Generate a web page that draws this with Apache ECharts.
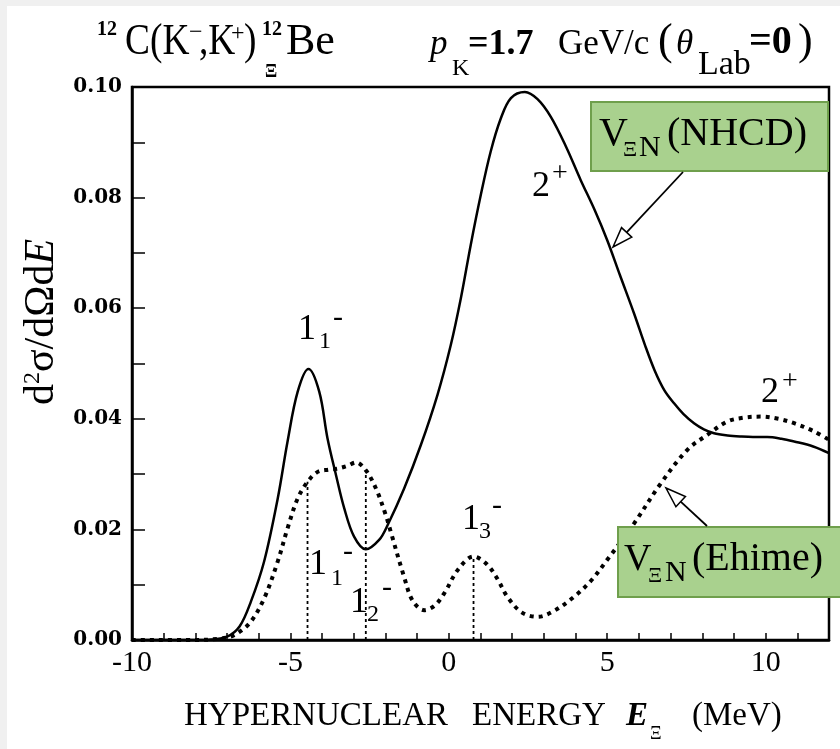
<!DOCTYPE html>
<html>
<head>
<meta charset="utf-8">
<script src="https://cdn.jsdelivr.net/npm/echarts@6/dist/echarts.min.js"></script>
<style>
html, body { margin: 0; padding: 0; background: #fff; }
#chart { width: 840px; height: 749px; }
</style>
</head>
<body>
<div id="chart"></div>
<script>
// V_ΞN (NHCD) - solid curve
const nhcdE = [-10, -8, -7.5, -7.0, -6.6, -6.25, -5.83, -5.4, -5.09, -4.77,
    -4.43, -4.09, -3.83, -3.56, -3.30, -2.99, -2.62, -2.2, -1.93, -1.41,
    -0.88, -0.36, 0.06, 0.38, 0.69, 1.01, 1.32, 1.64, 1.96, 2.4,
    2.8, 3.22, 3.7, 4.16, 4.6, 5.0, 5.4, 5.85, 6.2, 6.5,
    6.8, 7.11, 7.4, 7.74, 8.05, 8.37, 8.8, 9.21, 9.6, 10.05,
    10.5, 10.9, 11.5, 12];
const nhcdV = [0, 0, 0.0001, 0.0006, 0.0025, 0.0069, 0.0142, 0.0256, 0.0359, 0.0449,
    0.0490, 0.0449, 0.0365, 0.0298, 0.0238, 0.0187, 0.0164, 0.0181, 0.0208, 0.0274,
    0.0353, 0.0443, 0.0533, 0.0618, 0.0714, 0.0805, 0.0883, 0.0943, 0.0980, 0.0991,
    0.0978, 0.0946, 0.0892, 0.0832, 0.0778, 0.0723, 0.0660, 0.0590, 0.0532, 0.0487,
    0.0452, 0.0428, 0.0409, 0.0392, 0.0381, 0.0374, 0.0370, 0.0368, 0.0367, 0.0367,
    0.0364, 0.0359, 0.0350, 0.0338];

// V_ΞN (Ehime) - dotted curve
const ehimeE = [-10, -8, -7.3, -6.9, -6.6, -6.25, -5.83, -5.4, -5.09, -4.77,
    -4.46, -4.14, -3.8, -3.51, -3.2, -2.93, -2.62, -2.3, -1.99, -1.83,
    -1.41, -1.15, -0.78, -0.45, -0.15, 0.3, 0.78, 1.2, 1.54, 1.85,
    2.3, 2.8, 3.3, 3.95, 4.5, 5.0, 5.85, 6.69, 7.53, 8.16,
    8.79, 9.3, 9.84, 10.4, 10.9, 11.5, 12];
const ehimeV = [0, 0, 0.0002, 0.0006, 0.0015, 0.0033, 0.0075, 0.0142, 0.0202, 0.0256,
    0.0286, 0.0304, 0.0308, 0.0310, 0.0315, 0.0321, 0.0307, 0.0274, 0.0226, 0.0195,
    0.0114, 0.0072, 0.0054, 0.0062, 0.0084, 0.0128, 0.0151, 0.0137, 0.0110, 0.0078,
    0.0050, 0.0042, 0.0052, 0.0078, 0.0108, 0.0145, 0.0211, 0.0283, 0.0344, 0.0371,
    0.0395, 0.0402, 0.0404, 0.0400, 0.0392, 0.0378, 0.0362];

// 1- states (Ehime): positions of the dotted drop lines
const stateE = [-4.46, -2.62, 0.78];
const stateV = [0.0286, 0.0306, 0.0151];

const xTicks = [-10, -5, 0, 5, 10];

const serif = '"Liberation Serif", "DejaVu Serif", serif';

function txt(x, y, s, size, opt) {
    opt = opt || {};
    return {
        type: 'text', x: x, y: y, z: opt.z || 100, scaleX: opt.sx || 1, silent: true,
        style: {
            text: s, fontFamily: opt.font || serif, fontSize: size,
            fontWeight: opt.bold ? 'bold' : 'normal',
            fontStyle: opt.italic ? 'italic' : 'normal',
            fill: '#000', align: 'left', verticalAlign: 'middle'
        }
    };
}

function arrow(x1, y1, x2, y2) {
    const L = 20, W = 7;
    const dx = x2 - x1, dy = y2 - y1, d = Math.hypot(dx, dy);
    const ux = dx / d, uy = dy / d;
    const bx = x2 - ux * L, by = y2 - uy * L;
    return [
        { type: 'line', z: 100, silent: true, shape: { x1: x1, y1: y1, x2: bx, y2: by }, style: { stroke: '#000', lineWidth: 1.8 } },
        { type: 'polygon', z: 100, silent: true,
          shape: { points: [[x2, y2], [bx - uy * W, by + ux * W], [bx + uy * W, by - ux * W]] },
          style: { fill: '#fff', stroke: '#000', lineWidth: 1.5 } }
    ];
}

const greenBox = { fill: '#a9d18e', stroke: '#6f9f4c', lineWidth: 2 };

const graphics = [
    // light grey strip at left/top edge
    { type: 'rect', z: 1, silent: true, shape: { x: 0, y: 0, width: 7, height: 749 }, style: { fill: '#f0f0f0' } },
    { type: 'rect', z: 1, silent: true, shape: { x: 0, y: 0, width: 840, height: 6 }, style: { fill: '#f0f0f0' } },

    // title
    txt(97, 30, '12', 20, { bold: true }),
    txt(125, 42, 'C(K', 44, { sx: 0.85 }),
    txt(189, 33, '\u2212', 24),
    txt(199, 42, ',K', 44, { sx: 0.85 }),
    txt(231, 34, '+', 24),
    txt(244, 42, ')', 44, { sx: 0.85 }),
    txt(262, 30, '12', 20, { bold: true }),
    txt(265, 72, 'Ξ', 18, { bold: true }),
    txt(286, 42, 'Be', 44),
    txt(430, 45, 'p', 35, { italic: true }),
    txt(452, 69, 'K', 24),
    txt(468, 45, '=1.7', 36, { bold: true }),
    txt(558, 45, 'GeV/c', 35),
    txt(658, 42, '(', 44),
    txt(676, 45, 'θ', 35, { italic: true }),
    txt(698, 65, 'Lab', 34),
    txt(749, 43, '=0', 40, { bold: true }),
    txt(798, 42, ')', 44),

    // y axis title
    { type: 'text', x: 42, y: 322, rotation: Math.PI / 2, z: 100, silent: true,
      style: {
          text: 'd{sup|2}σ/dΩd{it|E}', fontFamily: serif, fontSize: 42, fill: '#000',
          align: 'center', verticalAlign: 'middle',
          rich: {
              sup: { fontFamily: serif, fontSize: 24, verticalAlign: 'top', fill: '#000' },
              it: { fontFamily: serif, fontSize: 42, fontStyle: 'italic', fill: '#000' }
          }
      } },

    // x axis title
    txt(184, 716, 'HYPERNUCLEAR', 33),
    txt(472, 716, 'ENERGY', 33),
    txt(626, 716, 'E', 33, { bold: true, italic: true }),
    txt(650, 734, 'Ξ', 18),
    txt(692, 716, '(MeV)', 33),

    // state labels
    txt(298, 330, '1', 36), txt(319, 342, '1', 24), txt(333, 318, '-', 30),
    txt(309, 565, '1', 36), txt(331, 579, '1', 24), txt(343, 552, '-', 30),
    txt(350, 603, '1', 36), txt(367, 615, '2', 24), txt(382, 588, '-', 30),
    txt(462, 520, '1', 36), txt(479, 532, '3', 24), txt(492, 506, '-', 30),
    txt(532, 187, '2', 36), txt(552, 174, '+', 28),
    txt(761, 393, '2', 36), txt(782, 382, '+', 28),
    txt(672, 588, '2', 36, { z: 90 }), txt(692, 570, '+', 28, { z: 90 }),

    // NHCD box
    { type: 'rect', z: 95, silent: true, shape: { x: 591, y: 102, width: 237, height: 69 }, style: greenBox },
    txt(599, 134, 'V', 40),
    txt(623, 150, 'Ξ', 22),
    txt(639, 148, 'N', 30),
    txt(667, 134, '(NHCD)', 40),

    // Ehime box
    { type: 'rect', z: 95, silent: true, shape: { x: 618, y: 527, width: 230, height: 70 }, style: greenBox },
    txt(624, 560, 'V', 38),
    txt(648, 576, 'Ξ', 22),
    txt(665, 573, 'N', 30),
    txt(692, 559, '(Ehime)', 40)
].concat(arrow(683, 172, 613, 247), arrow(707, 526, 666, 488));

const nhcdData = nhcdE.map((e, i) => [e, nhcdV[i]]);
const ehimeData = ehimeE.map((e, i) => [e, ehimeV[i]]);

const stateSeries = stateE.map((e, i) => ({
    type: 'line',
    data: [[e, 0], [e, stateV[i]]],
    symbol: 'none',
    silent: true,
    z: 3,
    lineStyle: { color: '#000', width: 1.8, type: [3, 3] }
}));

const option = {
    backgroundColor: '#fff',
    animation: false,
    grid: {
        left: 132, right: 11, top: 87, bottom: 109,
        show: true, borderColor: '#000', borderWidth: 2.5, backgroundColor: 'transparent'
    },
    xAxis: {
        type: 'value', min: -10, max: 12, interval: 1,
        axisLine: { onZero: false, lineStyle: { color: '#000', width: 2.5 } },
        axisTick: { inside: true, length: 7, lineStyle: { color: '#000', width: 1.5 } },
        axisLabel: {
            interval: 0, margin: 8, color: '#000', fontFamily: serif, fontSize: 30,
            formatter: v => (xTicks.indexOf(v) >= 0 ? String(v) : '')
        },
        splitLine: { show: false }
    },
    yAxis: {
        type: 'value', min: 0, max: 0.1, interval: 0.01,
        axisLine: { onZero: false, lineStyle: { color: '#000', width: 2.5 } },
        axisTick: { inside: true, length: 13, lineStyle: { color: '#000', width: 1.5 } },
        axisLabel: {
            margin: 10, color: '#000', fontFamily: '"DejaVu Serif", serif', fontWeight: 'bold', fontSize: 20,
            formatter: v => (Math.round(v * 100) % 2 === 0 ? v.toFixed(2) : '')
        },
        splitLine: { show: false }
    },
    series: [
        {
            name: 'NHCD', type: 'line', data: nhcdData, smooth: 0.35, symbol: 'none', z: 4,
            lineStyle: { color: '#000', width: 2.5 }
        },
        {
            name: 'Ehime', type: 'line', data: ehimeData, smooth: 0.35, symbol: 'none', z: 4,
            lineStyle: { color: '#000', width: 4, type: [4, 5], cap: 'butt' }
        }
    ].concat(stateSeries),
    graphic: graphics
};

const chart = echarts.init(document.getElementById('chart'));
chart.setOption(option);
</script>
</body>
</html>
